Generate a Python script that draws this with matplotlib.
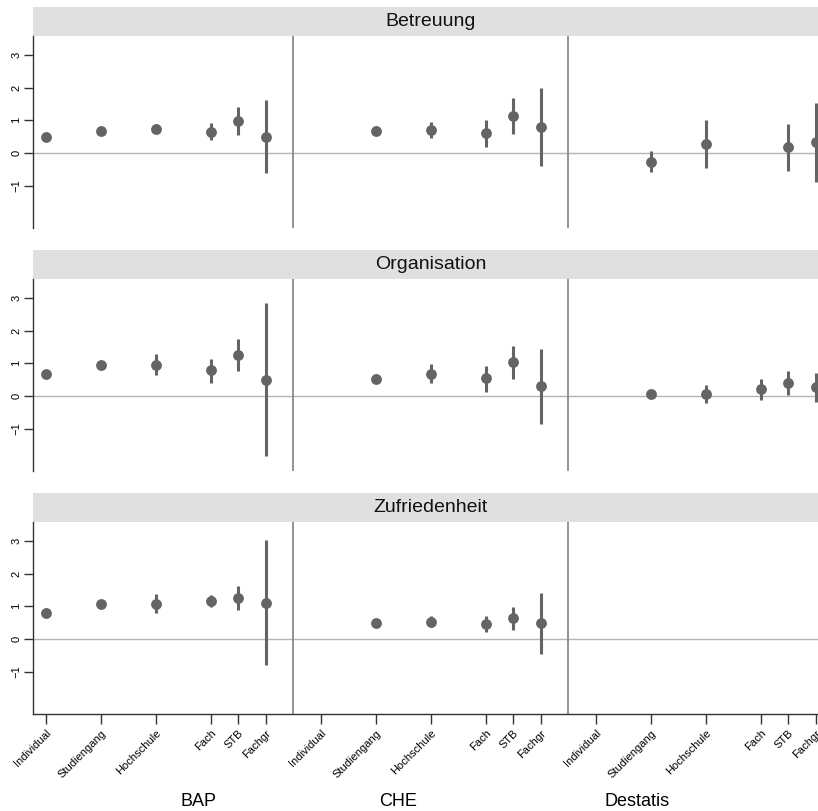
import numpy as np
import matplotlib.pyplot as plt
from matplotlib.patches import Rectangle

plt.rcParams['font.family'] = ['Liberation Sans', 'DejaVu Sans']

# === Data ===
nan = np.nan
panels = ["Betreuung", "Organisation", "Zufriedenheit"]
sources = ["BAP", "CHE", "Destatis"]
levels = ["Individual", "Studiengang", "Hochschule", "Fach", "STB", "Fachgr"]
level_pos = [1, 3, 5, 7, 8, 9]

# rows: BAP, CHE, Destatis
betreuung_est = [[0.48, 0.67, 0.745, 0.64, 0.99, 0.50],
                 [nan, 0.67, 0.71, 0.60, 1.13, 0.79],
                 [nan, -0.28, 0.28, nan, 0.17, 0.33]]
betreuung_lo = [[0.42, 0.60, 0.62, 0.40, 0.55, -0.62],
                [nan, 0.60, 0.45, 0.19, 0.57, -0.40],
                [nan, -0.60, -0.47, nan, -0.55, -0.88]]
betreuung_hi = [[0.54, 0.74, 0.87, 0.91, 1.40, 1.62],
                [nan, 0.74, 0.96, 1.01, 1.67, 1.98],
                [nan, 0.06, 1.01, nan, 0.89, 1.53]]

organisation_est = [[0.68, 0.96, 0.96, 0.78, 1.26, 0.50],
                    [nan, 0.52, 0.68, 0.54, 1.03, 0.29],
                    [nan, 0.07, 0.05, 0.20, 0.40, 0.26]]
organisation_lo = [[0.62, 0.90, 0.63, 0.40, 0.76, -1.84],
                   [nan, 0.46, 0.39, 0.13, 0.52, -0.86],
                   [nan, 0.01, -0.22, -0.12, 0.03, -0.19]]
organisation_hi = [[0.74, 1.02, 1.29, 1.13, 1.74, 2.84],
                   [nan, 0.58, 0.98, 0.92, 1.54, 1.44],
                   [nan, 0.13, 0.34, 0.52, 0.76, 0.69]]

zufriedenheit_est = [[0.80, 1.08, 1.08, 1.15, 1.26, 1.11],
                     [nan, 0.49, 0.52, 0.46, 0.63, 0.48],
                     [nan, nan, nan, nan, nan, nan]]
zufriedenheit_lo = [[0.74, 1.02, 0.79, 0.97, 0.90, -0.81],
                    [nan, 0.43, 0.35, 0.20, 0.27, -0.46],
                    [nan, nan, nan, nan, nan, nan]]
zufriedenheit_hi = [[0.86, 1.14, 1.37, 1.35, 1.63, 3.03],
                    [nan, 0.55, 0.71, 0.71, 0.99, 1.41],
                    [nan, nan, nan, nan, nan, nan]]

panel_data = [(betreuung_est, betreuung_lo, betreuung_hi),
              (organisation_est, organisation_lo, organisation_hi),
              (zufriedenheit_est, zufriedenheit_lo, zufriedenheit_hi)]

# === Layout (pixel based) ===
W, H = 818, 811
fig = plt.figure(figsize=(W / 100, H / 100), dpi=100)
left_px = 33
plot_h = 192
strip_h = 29
panel_tops = [36, 279, 522]

pt_col = '#646464'
all_pos = [p + 10 * g for g in range(len(sources)) for p in level_pos]

for i, name in enumerate(panels):
    top = panel_tops[i]
    ax = fig.add_axes([left_px / W, 1 - (top + plot_h) / H, 1 - left_px / W, plot_h / H])
    ax.set_xlim(0.54, 29.08)
    ax.set_ylim(-2.3, 3.58)

    ax.axhline(0, color='#b4b4b4', lw=1, zorder=1)
    for sep in [10, 20]:
        ax.axvline(sep, color='#8a8a8a', lw=1.3, zorder=1)

    est, lo, hi = panel_data[i]
    for g in range(len(sources)):
        x = np.array(level_pos) + 10 * g
        e = np.array(est[g])
        ax.vlines(x, lo[g], hi[g], color=pt_col, lw=2.2, zorder=2)
        ax.plot(x, e, 'o', ms=7.8, color=pt_col, mec='none', zorder=3)

    for s in ['top', 'right']:
        ax.spines[s].set_visible(False)
    ax.spines['left'].set_color('#333333')
    ax.spines['left'].set_linewidth(1)
    ax.set_yticks([-1, 0, 1, 2, 3])
    ax.tick_params(axis='y', length=6.5, width=1, color='#333333', labelsize=8,
                   labelrotation=90, pad=2)
    for lab in ax.get_yticklabels():
        lab.set_va('center')

    if i < 2:
        ax.spines['bottom'].set_visible(False)
        ax.set_xticks([])
    else:
        ax.spines['bottom'].set_color('#333333')
        ax.spines['bottom'].set_linewidth(1)
        ax.set_xticks(all_pos)
        ax.set_xticklabels(levels * len(sources), rotation=45, ha='right',
                           rotation_mode='anchor', fontsize=8)
        ax.tick_params(axis='x', length=7, width=1, color='#333333', pad=3)

    # strip header
    ax.add_patch(Rectangle((0, 1), 1, strip_h / plot_h, transform=ax.transAxes,
                           clip_on=False, fc='#e0e0e0', ec='none'))
    ax.text(0.507, 1 + strip_h / plot_h / 2, name, transform=ax.transAxes,
            ha='center', va='center', fontsize=14, color='#111111')

# group labels
for src, xpx in zip(sources, [198, 398, 637]):
    fig.text(xpx / W, 1 - 801 / H, src, ha='center', va='center', fontsize=13)

fig.savefig('out.png', dpi=100)
